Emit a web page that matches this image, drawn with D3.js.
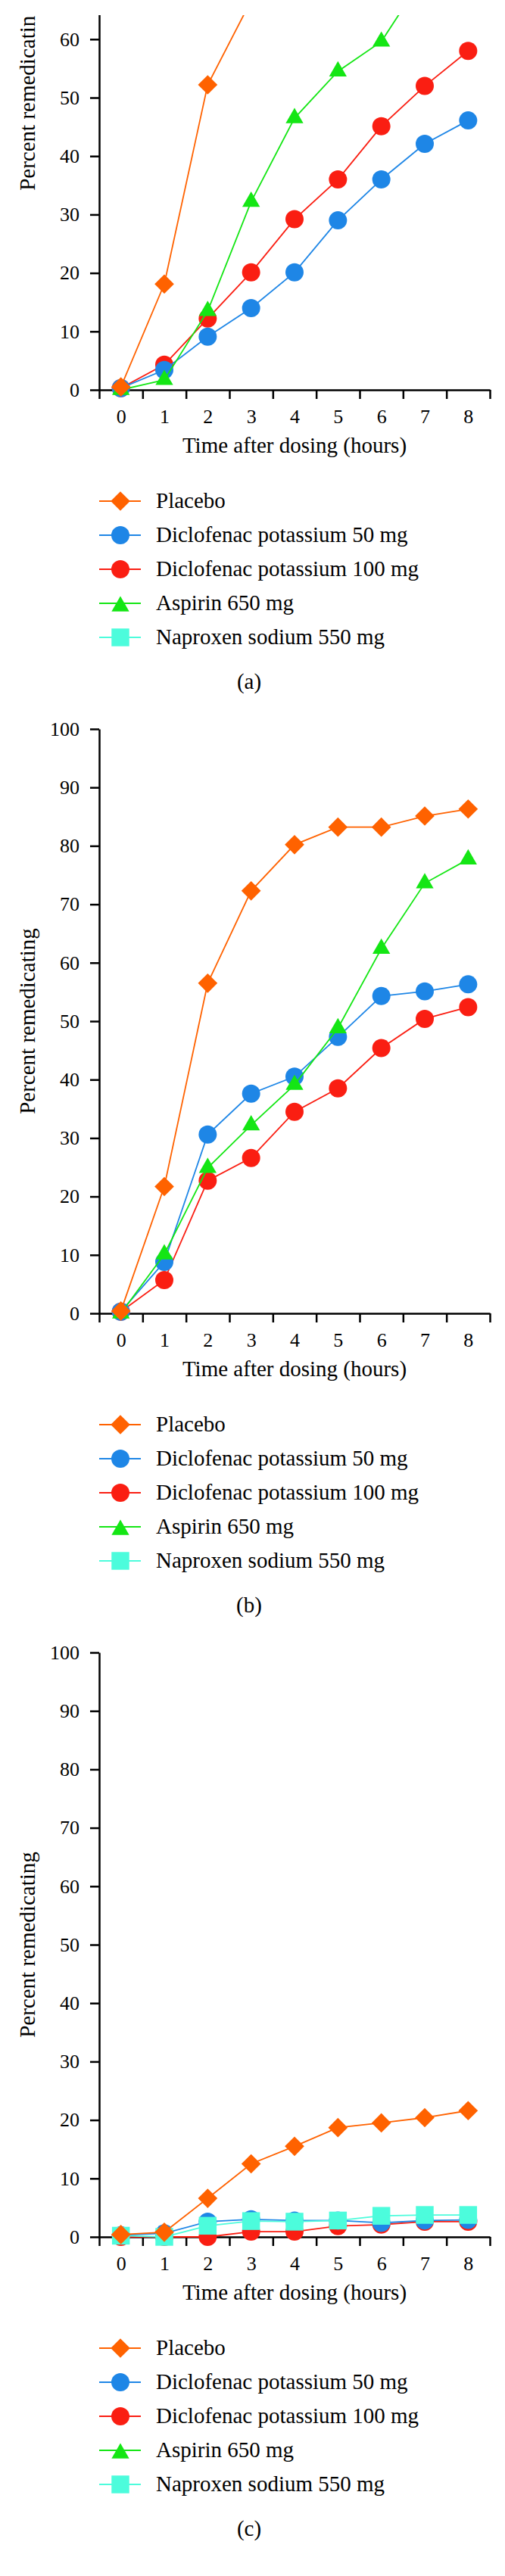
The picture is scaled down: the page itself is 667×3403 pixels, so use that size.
<!DOCTYPE html>
<html><head><meta charset="utf-8">
<script src="https://cdn.jsdelivr.net/npm/d3@7"></script>
<style>html,body{margin:0;padding:0;background:#fff}</style>
</head><body><svg id="c" width="667" height="3403" style="display:block;background:#fff"></svg>
<script>
const hours = [0,1,2,3,4,5,6,7,8];
const seriesNames = ["Placebo","Diclofenac potassium 50 mg","Diclofenac potassium 100 mg","Aspirin 650 mg","Naproxen sodium 550 mg"];
const seriesColors = ["#FF6200","#1E86E6","#FA1E12","#14E614","#4CFCDC"];
const seriesSymbols = ["diamond","circle","circle","triangle","square"];
const yTicks = [0,10,20,30,40,50,60,70,80,90,100];
const panelLabels = ["(a)","(b)","(c)"];
const xTitle = "Time after dosing (hours)";
const yTitle = "Percent remedicating";

// Panel (a)
const placeboA   = [0.5,18.1,52.2,66.6,null,null,null,null,null];
const diclo50A   = [0.3,3.4,9.1,14.0,20.1,29.0,36.0,42.1,46.1];
const diclo100A  = [0.3,4.3,12.2,20.1,29.2,36.0,45.1,52.0,58.0];
const aspirinA   = [0,1.7,13.5,32.2,46.5,54.5,59.6,71.0,null];
const naproxenA  = [null,null,null,null,null,null,null,null,null];

// Panel (b)
const placeboB   = [0.4,21.7,56.5,72.3,80.2,83.2,83.2,85.1,86.3];
const diclo50B   = [0.3,8.8,30.6,37.6,40.5,47.3,54.3,55.1,56.3];
const diclo100B  = [0.3,5.7,22.7,26.6,34.5,38.5,45.4,50.4,52.4];
const aspirinB   = [0,10.1,24.9,32.2,39.1,48.8,62.4,73.6,77.7];
const naproxenB  = [null,null,null,null,null,null,null,null,null];

// Panel (c)
const placeboC   = [0.4,0.8,6.6,12.5,15.5,18.7,19.5,20.4,21.6];
const diclo50C   = [0.3,0.6,2.6,3.0,2.8,2.8,2.4,2.8,2.9];
const diclo100C  = [0,0,0,0.9,0.9,1.85,2.1,2.6,2.6];
const aspirinC   = [null,null,null,null,null,null,null,null,null];
const naproxenC  = [0.2,0,1.9,2.7,2.6,2.8,3.6,3.75,3.75];

const FONT = "'Liberation Serif','Times New Roman',serif";
const svg = d3.select("#c");
const defs = svg.append("defs");

const panels = [
  {label: panelLabels[0], axisY: 515, data: [placeboA, diclo50A, diclo100A, aspirinA, naproxenA], clipTop: 20, maxTick: 60},
  {label: panelLabels[1], axisY: 1735, data: [placeboB, diclo50B, diclo100B, aspirinB, naproxenB], maxTick: 100},
  {label: panelLabels[2], axisY: 2955, data: [placeboC, diclo50C, diclo100C, aspirinC, naproxenC], maxTick: 100}
];

const x = d3.scaleLinear().domain([-0.5, 8.5]).range([131, 647]);
const drawOrder = [2,1,3,4,0];

function symbolPath(kind){
  if(kind==="diamond") return d3.symbol(d3.symbolSquare, 330)();
  if(kind==="circle") return d3.symbol(d3.symbolCircle, 452)();
  if(kind==="triangle") return d3.symbol(d3.symbolTriangle, 235)();
  return d3.symbol(d3.symbolSquare, 550)();
}
function symbolTransform(kind, px, py){
  return kind==="diamond" ? `translate(${px},${py}) rotate(45)` : `translate(${px},${py})`;
}

panels.forEach((p, pi) => {
  const g = svg.append("g");
  if (p.clipTop) {
    defs.append("clipPath").attr("id","clipA").append("rect")
      .attr("x",0).attr("y",p.clipTop).attr("width",667).attr("height",2000);
    g.attr("clip-path","url(#clipA)");
  }
  const y = d3.scaleLinear().domain([0,100]).range([p.axisY, p.axisY - 772]);

  // y axis
  const ya = g.append("g").attr("transform",`translate(${x.range()[0]},0)`)
    .call(d3.axisLeft(y).tickValues(yTicks.filter(t => t <= p.maxTick)).tickSize(12).tickSizeOuter(0).tickPadding(14));
  // x axis ticks at band boundaries
  const xa = g.append("g").attr("transform",`translate(0,${p.axisY})`)
    .call(d3.axisBottom(x).tickValues(d3.range(-0.5, 9, 1)).tickSize(12).tickSizeOuter(0).tickFormat(""));
  // x labels at band centers
  const xl = g.append("g").attr("transform",`translate(0,${p.axisY})`)
    .call(d3.axisBottom(x).tickValues(hours).tickSize(0).tickPadding(26).tickFormat(d3.format("d")));
  xl.select(".domain").remove();
  [ya, xa, xl].forEach(a => {
    a.selectAll(".domain,.tick line").attr("stroke","#000").attr("stroke-width",2.5);
    a.selectAll("text").attr("font-family",FONT).attr("font-size",26).attr("fill","#000");
  });

  // axis titles
  g.append("text").attr("x", (x.range()[0]+x.range()[1])/2).attr("y", p.axisY + 83)
    .attr("text-anchor","middle").attr("font-family",FONT).attr("font-size",29).text(xTitle);
  g.append("text").attr("transform",`translate(46,${p.axisY - 386}) rotate(-90)`)
    .attr("text-anchor","middle").attr("font-family",FONT).attr("font-size",29).text(yTitle);

  // series
  drawOrder.forEach(si => {
    const vals = p.data[si];
    const pts = hours.map((h,i)=>({h, v: vals[i]}));
    const sg = g.append("g");
    sg.append("path").datum(pts)
      .attr("fill","none").attr("stroke",seriesColors[si]).attr("stroke-width",1.8)
      .attr("d", d3.line().defined(d=>d.v!=null).x(d=>x(d.h)).y(d=>y(d.v)));
    sg.selectAll("path.m").data(pts.filter(d=>d.v!=null)).join("path").attr("class","m")
      .attr("d", symbolPath(seriesSymbols[si]))
      .attr("transform", d=>symbolTransform(seriesSymbols[si], x(d.h), y(d.v)))
      .attr("fill", seriesColors[si]);
  });

  // legend
  const lg = svg.append("g");
  seriesNames.forEach((name, i) => {
    const ly = p.axisY + 147 + 45*i;
    lg.append("line").attr("x1",131).attr("x2",186).attr("y1",ly).attr("y2",ly)
      .attr("stroke",seriesColors[i]).attr("stroke-width",1.8);
    lg.append("path").attr("d", symbolPath(seriesSymbols[i]))
      .attr("transform", symbolTransform(seriesSymbols[i], 159, ly + (seriesSymbols[i]==="triangle"?4:0)))
      .attr("fill", seriesColors[i]);
    lg.append("text").attr("x",206).attr("y",ly).attr("dy","0.32em")
      .attr("font-family",FONT).attr("font-size",29).text(name);
  });

  // caption
  svg.append("text").attr("x",329).attr("y",p.axisY + 395).attr("text-anchor","middle")
    .attr("font-family",FONT).attr("font-size",29).text(p.label);
});
</script>
</body></html>
